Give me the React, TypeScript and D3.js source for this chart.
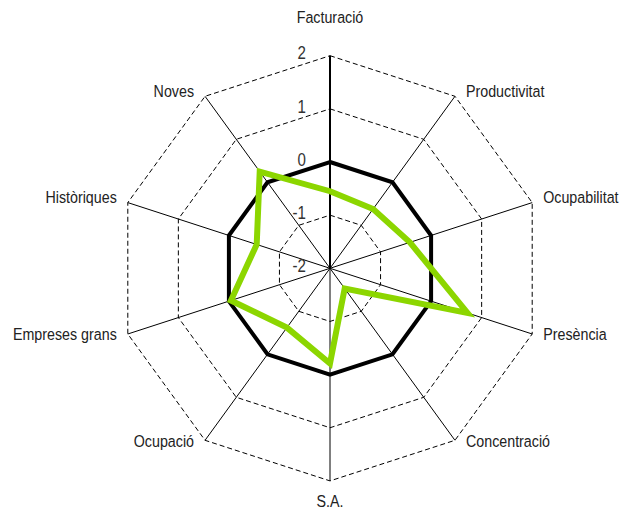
import React, { useEffect, useRef } from "react";
import * as d3 from "d3";

const axes = [
  "Facturació",
  "Productivitat",
  "Ocupabilitat",
  "Presència",
  "Concentració",
  "S.A.",
  "Ocupació",
  "Empreses grans",
  "Històriques",
  "Noves",
];
const reference = [0, 0, 0, 0, 0, 0, 0, 0, 0, 0];
const company = [-0.55, -0.62, -0.42, 0.72, -1.53, -0.21, -0.62, -0.04, -0.55, 0.25];
const ticks = [-2, -1, 0, 1, 2];

const App = () => {
  const svgRef = useRef<SVGSVGElement>(null);

  useEffect(() => {
    const width = 634;
    const height = 513;
    const cx = 330;
    const cy = 268.3;
    const font = "'Liberation Sans', Arial, sans-serif";
    const squeeze = 0.84; // condensed look

    const root = d3.select(svgRef.current);
    root.selectAll("*").remove();
    root.attr("width", width).attr("height", height);

    const g = root.append("g").attr("transform", `translate(${cx},${cy})`);

    const r = d3.scaleLinear().domain([-2, 2]).range([0, 212.6]);
    const angle = d3
      .scaleLinear()
      .domain([0, axes.length])
      .range([0, 2 * Math.PI]);

    const pt = (i: number, v: number): [number, number] => {
      const a = angle(i);
      return [r(v) * Math.sin(a), -r(v) * Math.cos(a)];
    };

    const radial = d3
      .lineRadial<number>()
      .angle((d, i) => angle(i))
      .radius((d) => r(d))
      .curve(d3.curveLinearClosed);

    // dashed grid rings
    ticks
      .filter((t) => t > -2)
      .forEach((t) => {
        g.append("path")
          .attr("d", radial(axes.map(() => t)))
          .attr("fill", "none")
          .attr("stroke", "#000")
          .attr("stroke-width", 1)
          .attr("stroke-dasharray", "5,3");
      });

    // spokes
    axes.forEach((a, i) => {
      const [x, y] = pt(i, 2);
      g.append("line")
        .attr("x1", 0)
        .attr("y1", 0)
        .attr("x2", x)
        .attr("y2", y)
        .attr("stroke", "#000")
        .attr("stroke-width", i === 0 ? 2 : 1);
    });

    // series
    g.append("path")
      .attr("d", radial(reference))
      .attr("fill", "none")
      .attr("stroke", "#000")
      .attr("stroke-width", 4)
      .attr("stroke-linejoin", "miter");

    g.append("path")
      .attr("d", radial(company))
      .attr("fill", "none")
      .attr("stroke", "#8cd600")
      .attr("stroke-width", 6)
      .attr("stroke-linejoin", "miter");

    // tick labels
    ticks.forEach((t) => {
      g.append("text")
        .attr("transform", `translate(-24,${-r(t) - 1}) scale(${squeeze},1)`)
        .attr("text-anchor", "end")
        .attr("dominant-baseline", "middle")
        .style("font-family", font)
        .style("font-size", "18px")
        .style("fill", "#333")
        .text(t);
    });

    // axis labels
    axes.forEach((a, i) => {
      const [x, y] = pt(i, 2);
      const s = Math.sin(angle(i));
      let anchor = "middle";
      let dx = 0;
      let dy = 0;
      if (Math.abs(s) < 0.01) {
        dy = y < 0 ? -37 : 22;
      } else if (s > 0) {
        anchor = "start";
        dx = 11;
        dy = -4 + (y > 0 ? 6 : 0);
      } else {
        anchor = "end";
        dx = -11;
        dy = -4 + (y > 0 ? 6 : 0);
      }
      if (i === 2 || i === 8) dy = -4;
      if (i === 3 || i === 7) dy = 2;
      g.append("text")
        .attr("transform", `translate(${x + dx},${y + dy}) scale(${squeeze},1)`)
        .attr("text-anchor", anchor)
        .attr("dominant-baseline", "middle")
        .style("font-family", font)
        .style("font-size", "17px")
        .style("fill", "#222")
        .text(a);
    });
  }, []);

  return <svg ref={svgRef} style={{ position: "absolute", left: 0, top: 0 }}></svg>;
};

export default App;
